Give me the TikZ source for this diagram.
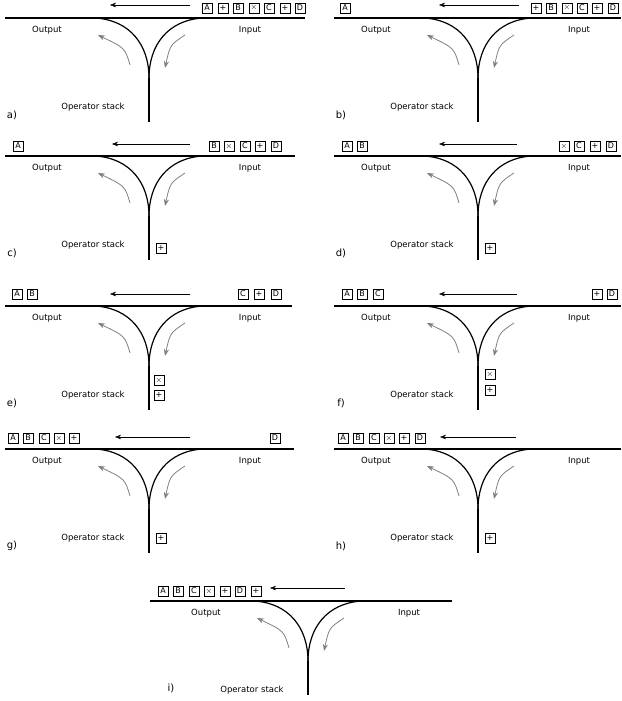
\documentclass[tikz,border=0pt]{standalone}
\usepackage{fontspec}
\setmainfont{DejaVu Sans}
\usetikzlibrary{arrows.meta}
\tikzset{
  tok/.style={draw, inner sep=0pt, minimum width=10pt, minimum height=10pt, font=\fontsize{8}{8}\selectfont},
  rail/.style={line width=1.2pt},
  move/.style={gray, line width=0.8pt, -{Stealth[length=7pt]}},
  flow/.style={-{Stealth[length=6pt]}},
  lbl/.style={font=\fontsize{8.5}{9}\selectfont},
}
% one yard: line ends, step label, stem end
\newcommand{\yard}[4]{%
  \draw[rail] (#1,18) -- (#2,18);
  \coordinate (jn) at (149,78);
  \draw[rail] (95,18) .. controls (130,20) and (149,45) .. (jn);
  \draw[rail] (203,18) .. controls (168,20) and (149,45) .. (jn);
  \draw[rail] (jn) -- (149,#4);
  \draw[move] (130,65) .. controls (125,48) .. (98,35);
  \draw[move] (185,35) .. controls (170,45) .. (165,68);
  \node[lbl] (out) at (47,30) {Output};
  \node[lbl] (in) at (250,30) {Input};
  \node[lbl] (ops) at (93,107) {Operator stack};
  \node[font=\fontsize{10}{11}\selectfont] (step) at (12,#4-7) {#3};
}
\begin{document}
\begin{tikzpicture}[x=1pt,y=-1pt]
\useasboundingbox (0,0) rectangle (621,701);
% a)
\begin{scope}
  \yard{5}{305}{a)}{122}
  \foreach \s/\x in {A/207,+/223,B/238,$\times$/254,C/269,+/285,D/300}
    \node[tok] at (\x,8) {\s};
  \coordinate (r) at (190,5); \coordinate (l) at (110,5);
  \draw[flow] (r) -- (l);
\end{scope}
% b)
\begin{scope}[shift={(329,0)}]
  \yard{5}{292}{b)}{122}
  \foreach \s/\x in {A/16,+/207,B/222,$\times$/238,C/253,+/268,D/284}
    \node[tok] at (\x,8) {\s};
  \coordinate (r) at (190,5); \coordinate (l) at (110,5);
  \draw[flow] (r) -- (l);
\end{scope}
% c)
\begin{scope}[shift={(0,138)}]
  \yard{5}{295}{c)}{122}
  \foreach \s/\x in {A/18,B/214,$\times$/229,C/245,+/260,D/276}
    \node[tok] at (\x,8) {\s};
  \node[tok] (s1) at (161,110) {+};
  \coordinate (r) at (190,6); \coordinate (l) at (112,6);
  \draw[flow] (r) -- (l);
\end{scope}
% d)
\begin{scope}[shift={(329,138)}]
  \yard{5}{292}{d)}{122}
  \foreach \s/\x in {A/18,B/33,$\times$/235,C/250,+/266,D/282}
    \node[tok] at (\x,8) {\s};
  \node[tok] (s1) at (161,110) {+};
  \coordinate (r) at (188,6); \coordinate (l) at (110,6);
  \draw[flow] (r) -- (l);
\end{scope}
% e)
\begin{scope}[shift={(0,288)}]
  \yard{5}{292}{e)}{122}
  \foreach \s/\x in {A/17,B/32,C/243,+/259,D/276}
    \node[tok] at (\x,6) {\s};
  \node[tok] (s2) at (159,92) {$\times$};
  \node[tok] (s1) at (159,107) {+};
  \coordinate (r) at (190,6); \coordinate (l) at (110,6);
  \draw[flow] (r) -- (l);
\end{scope}
% f)
\begin{scope}[shift={(329,288)}]
  \yard{5}{292}{f)}{122}
  \foreach \s/\x in {A/18,B/33,C/49,+/268,D/283}
    \node[tok] at (\x,6) {\s};
  \node[tok] (s2) at (161,86) {$\times$};
  \node[tok] (s1) at (161,102) {+};
  \coordinate (r) at (188,6); \coordinate (l) at (110,6);
  \draw[flow] (r) -- (l);
\end{scope}
% g)
\begin{scope}[shift={(0,431)}]
  \yard{5}{294}{g)}{122}
  \foreach \s/\x in {A/13,B/28,C/44,$\times$/59,+/74,D/275}
    \node[tok] at (\x,7) {\s};
  \node[tok] (s1) at (161,107) {+};
  \coordinate (r) at (190,6); \coordinate (l) at (115,6);
  \draw[flow] (r) -- (l);
\end{scope}
% h)
\begin{scope}[shift={(329,431)}]
  \yard{5}{292}{h)}{122}
  \foreach \s/\x in {A/14,B/29,C/45,$\times$/60,+/75,D/91}
    \node[tok] at (\x,7) {\s};
  \node[tok] (s1) at (161,107) {+};
  \coordinate (r) at (187,6); \coordinate (l) at (111,6);
  \draw[flow] (r) -- (l);
\end{scope}
% i)
\begin{scope}[shift={(159,583)}]
  \yard{-9}{293}{i)}{112}
  \foreach \s/\x in {A/4,B/19,C/35,$\times$/50,+/66,D/81,+/97}
    \node[tok] at (\x,8) {\s};
  \coordinate (r) at (186,5); \coordinate (l) at (111,5);
  \draw[flow] (r) -- (l);
\end{scope}
\end{tikzpicture}
\end{document}
